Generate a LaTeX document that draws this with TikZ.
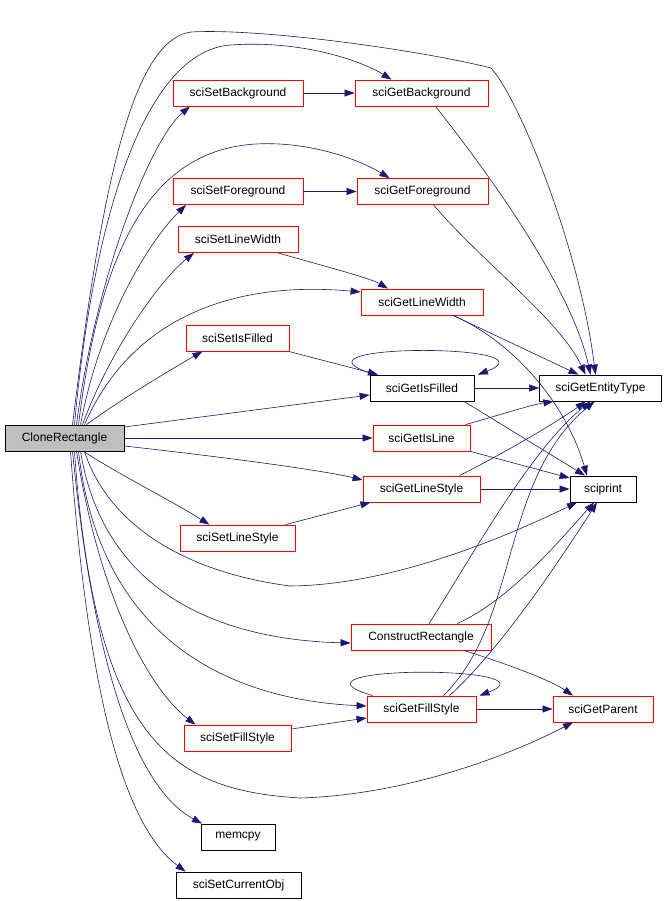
\documentclass[tikz,border=0pt]{standalone}
\usepackage{fontspec}
\setmainfont{Liberation Sans}
\usetikzlibrary{arrows.meta}
\definecolor{edgeblue}{RGB}{25,25,112}
\definecolor{boxgray}{RGB}{191,191,191}

\begin{document}
\begin{tikzpicture}[x=1pt, y=-1pt,
        func/.style={draw, line width=0.8pt, fill=white, minimum height=26pt, inner sep=0pt},
        redfunc/.style={func, draw=red},
        edge/.style={-{Triangle[length=10pt, width=7pt]}, color=edgeblue, line width=0.6pt},
        every node/.style={font=\fontsize{12}{14}\selectfont}
    ]
        \useasboundingbox (0,0) rectangle (666,901);

        % Nodes
        \node[func, fill=boxgray, minimum width=119pt] (clone) at (64.5,438) {CloneRectangle};
        \node[redfunc, minimum width=130pt] (setbg) at (238,93) {sciSetBackground};
        \node[redfunc, minimum width=133pt] (getbg) at (421.5,93) {sciGetBackground};
        \node[redfunc, minimum width=130pt] (setfg) at (238,191.5) {sciSetForeground};
        \node[redfunc, minimum width=131pt] (getfg) at (422.5,191.5) {sciGetForeground};
        \node[redfunc, minimum width=120pt] (setlw) at (238,239.5) {sciSetLineWidth};
        \node[redfunc, minimum width=122pt] (getlw) at (422,302) {sciGetLineWidth};
        \node[redfunc, minimum width=103pt] (setfilled) at (237.5,338) {sciSetIsFilled};
        \node[func, minimum width=104pt] (getfilled) at (422,388) {sciGetIsFilled};
        \node[func, minimum width=122pt] (entity) at (600.5,388) {sciGetEntityType};
        \node[redfunc, minimum width=97pt] (getline) at (421.5,438) {sciGetIsLine};
        \node[redfunc, minimum width=117pt] (getls) at (421.5,489) {sciGetLineStyle};
        \node[func, minimum width=66pt] (print) at (603,489) {sciprint};
        \node[redfunc, minimum width=115pt] (setls) at (237.5,538) {sciSetLineStyle};
        \node[redfunc, minimum width=140pt] (construct) at (421,637) {ConstructRectangle};
        \node[redfunc, minimum width=109pt] (getfs) at (421.5,709) {sciGetFillStyle};
        \node[redfunc, minimum width=100pt] (parent) at (603,709) {sciGetParent};
        \node[redfunc, minimum width=107pt] (setfs) at (237.5,738) {sciSetFillStyle};
        \node[func, minimum width=74pt] (memcpy) at (238,837) {memcpy};
        \node[func, minimum width=125pt] (setcur) at (238.5,885) {sciSetCurrentObj};

        % Edges out of CloneRectangle, upwards
        \draw[edge] ([xshift=8pt]clone.north) .. controls (100,200) and (130,40) .. (191,32)
            .. controls (260,28) and (420,50) .. (491,68)
            .. controls (520,100) and (580,250) .. ([xshift=-5pt]entity.north);
        \draw[edge] ([xshift=10pt]clone.north) .. controls (95,200) and (150,50) .. (231,45)
            .. controls (300,40) and (360,60) .. ([xshift=-30pt]getbg.north);
        \draw[edge] ([xshift=12pt]clone.north) .. controls (95,280) and (150,140) .. ([xshift=-48pt]setbg.south);
        \draw[edge] ([xshift=14pt]clone.north) .. controls (100,250) and (150,150) .. (256,144)
            .. controls (310,141) and (360,160) .. ([xshift=-33pt]getfg.north);
        \draw[edge] ([xshift=16pt]clone.north) .. controls (100,320) and (150,240) .. ([xshift=-52pt]setfg.south);
        \draw[edge] ([xshift=18pt]clone.north) .. controls (110,350) and (160,280) .. ([xshift=-44pt]setlw.south);
        \draw[edge] ([xshift=20pt]clone.north) .. controls (130,320) and (230,280) .. ([yshift=10pt]getlw.west);
        \draw[edge] ([xshift=22pt]clone.north) .. controls (120,400) and (170,370) .. ([xshift=-35pt]setfilled.south);

        % Edges out of CloneRectangle, to the right
        \draw[edge] ([yshift=11pt]clone.east) -- ([yshift=-7pt]getfilled.west);
        \draw[edge] (clone.east) -- (getline.west);
        \draw[edge] ([yshift=-8pt]clone.east) .. controls (250,460) and (330,472) .. ([yshift=9pt]getls.west);
        \draw[edge] ([xshift=19pt]clone.south) .. controls (120,475) and (170,500) .. ([xshift=-28pt]setls.north);

        % Edges out of CloneRectangle, downwards
        \draw[edge] ([xshift=20pt]clone.south) .. controls (105,515) and (170,570) .. (290,586)
            .. controls (400,585) and (520,530) .. ([xshift=-26pt]print.south);
        \draw[edge] ([xshift=16pt]clone.south) .. controls (105,600) and (230,640) .. ([yshift=-6pt]construct.west);
        \draw[edge] ([xshift=14pt]clone.south) .. controls (100,640) and (230,700) .. ([yshift=3pt]getfs.west);
        \draw[edge] ([xshift=12pt]clone.south) .. controls (100,600) and (150,690) .. ([xshift=-42pt]setfs.north);
        \draw[edge] ([xshift=10pt]clone.south) .. controls (95,740) and (170,790) .. (300,798)
            .. controls (400,795) and (500,760) .. ([xshift=-30pt]parent.south);
        \draw[edge] ([xshift=8pt]clone.south) .. controls (95,680) and (140,790) .. ([xshift=-36pt]memcpy.north);
        \draw[edge] ([xshift=6pt]clone.south) .. controls (90,720) and (130,830) .. ([xshift=-53pt]setcur.north);

        % Setters to getters
        \draw[edge] (setbg) -- (getbg);
        \draw[edge] (setfg) -- (getfg);
        \draw[edge] ([xshift=40pt]setlw.south) .. controls (320,265) and (370,278) .. ([xshift=-34pt]getlw.north);
        \draw[edge] ([xshift=51pt]setfilled.south) -- ([xshift=-44pt]getfilled.north);
        \draw[edge] ([xshift=48pt]setls.north) -- ([xshift=-51pt]getls.south);
        \draw[edge] ([yshift=9pt]setfs.east) -- ([yshift=-9pt]getfs.west);

        % Getters to sciGetEntityType, sciprint, sciGetParent
        \draw[edge] ([xshift=14pt]getbg.south) .. controls (470,150) and (570,280) .. ([xshift=-10pt]entity.north);
        \draw[edge] ([xshift=11pt]getfg.south) .. controls (480,260) and (560,320) .. ([xshift=-15pt]entity.north);
        \draw[edge] ([xshift=31pt]getlw.south) -- ([xshift=-22pt]entity.north);
        \draw[edge] ([xshift=31pt]getlw.south) .. controls (510,340) and (565,400) .. ([xshift=-16pt]print.north);
        \draw[edge] ([xshift=-47pt]getfilled.north) .. controls (270,343) and (560,343) .. ([xshift=56pt]getfilled.north);
        \draw[edge] (getfilled) -- (entity);
        \draw[edge] ([xshift=42pt]getfilled.south) -- ([xshift=-18pt]print.north);
        \draw[edge] ([xshift=44pt]getline.north) .. controls (500,415) and (530,405) .. ([xshift=-47pt]entity.south);
        \draw[edge] (getline.south east) -- ([yshift=11pt]print.west);
        \draw[edge] ([xshift=38pt]getls.north) .. controls (510,450) and (560,420) .. ([xshift=-15pt]entity.south);
        \draw[edge] (getls) -- (print);
        \draw[edge] ([xshift=8pt]construct.north) .. controls (470,560) and (530,450) .. ([xshift=-10pt]entity.south);
        \draw[edge] ([xshift=36pt]construct.north) .. controls (510,600) and (560,540) .. ([xshift=-9pt]print.south);
        \draw[edge] ([xshift=43pt]construct.south) .. controls (510,665) and (550,680) .. ([xshift=-30pt]parent.north);
        \draw[edge] ([xshift=-49pt]getfs.north) .. controls (270,665) and (560,665) .. ([xshift=58pt]getfs.north);
        \draw[edge] (getfs) -- (parent);
        \draw[edge] ([xshift=22pt]getfs.north) .. controls (520,620) and (500,480) .. ([xshift=-6pt]entity.south);
        \draw[edge] ([xshift=28pt]getfs.north) .. controls (500,650) and (560,560) .. ([xshift=-6pt]print.south);

    \end{tikzpicture}
\end{document}
